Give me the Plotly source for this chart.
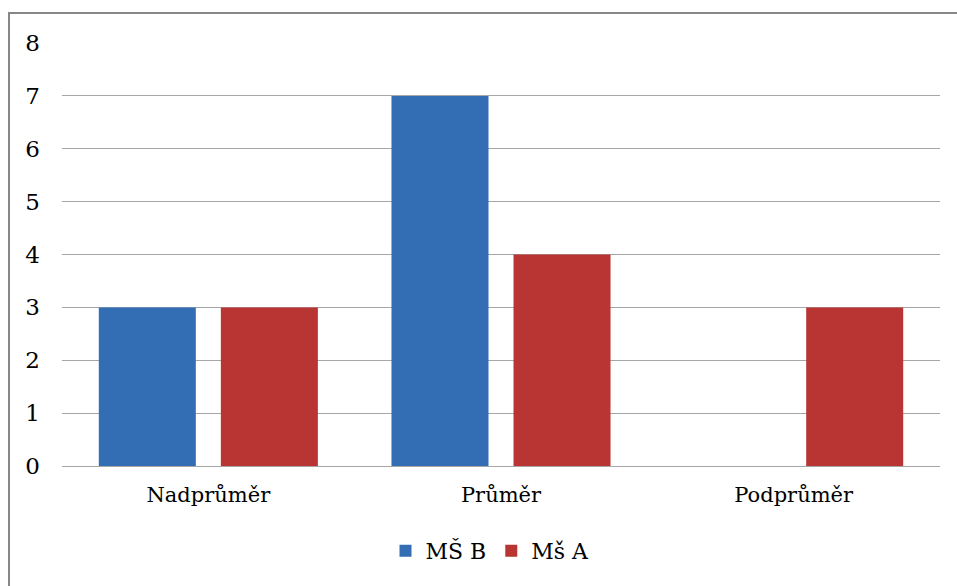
import plotly.graph_objects as go

categories = ["Nadprůměr", "Průměr", "Podprůměr"]
ms_b = [3, 7, 0]
ms_a = [3, 4, 3]
series_names = ["MŠ B", "Mš A"]
y_ticks = [0, 1, 2, 3, 4, 5, 6, 7, 8]

FONT = "DejaVu Serif, Liberation Serif, serif"

fig = go.Figure()
fig.add_trace(go.Bar(x=categories, y=ms_b, name=series_names[0],
                     marker=dict(color="#336EB5", line=dict(width=0))))
fig.add_trace(go.Bar(x=categories, y=ms_a, name=series_names[1],
                     marker=dict(color="#B93533", line=dict(width=0))))

L, R, T, B = 62, 17, 43, 120
W, H = 957, 586
pw, ph = W - L - R, H - T - B

def px(x):
    return (x - L) / pw

def py(y):
    return (H - B - y) / ph

fig.update_layout(
    width=W, height=H,
    margin=dict(l=L, r=R, t=T, b=B),
    paper_bgcolor="white", plot_bgcolor="white",
    font=dict(family=FONT, size=21, color="#000000"),
    barmode="group", bargap=0.166, bargroupgap=0.205,
    showlegend=True,
    legend=dict(orientation="h", x=px(490), xanchor="center", y=py(551), yanchor="middle",
                font=dict(family=FONT, size=22), itemwidth=30, traceorder="normal"),
    xaxis=dict(showgrid=False, showline=False, ticks="", ticklabelstandoff=14,
               tickfont=dict(family=FONT, size=21)),
    yaxis=dict(range=[0, 8], tickvals=y_ticks, showgrid=True, gridcolor="#A6A6A6",
               gridwidth=1, zeroline=True, zerolinecolor="#A6A6A6", zerolinewidth=1,
               showline=False, ticks="", ticklabelstandoff=21,
               tickfont=dict(family=FONT, size=23)),
    shapes=[dict(type="rect", xref="paper", yref="paper",
                 x0=px(9), x1=px(962), y0=py(13), y1=py(592),
                 line=dict(color="#878787", width=2), fillcolor="rgba(0,0,0,0)", layer="below")],
)

fig.write_html("out.html")
